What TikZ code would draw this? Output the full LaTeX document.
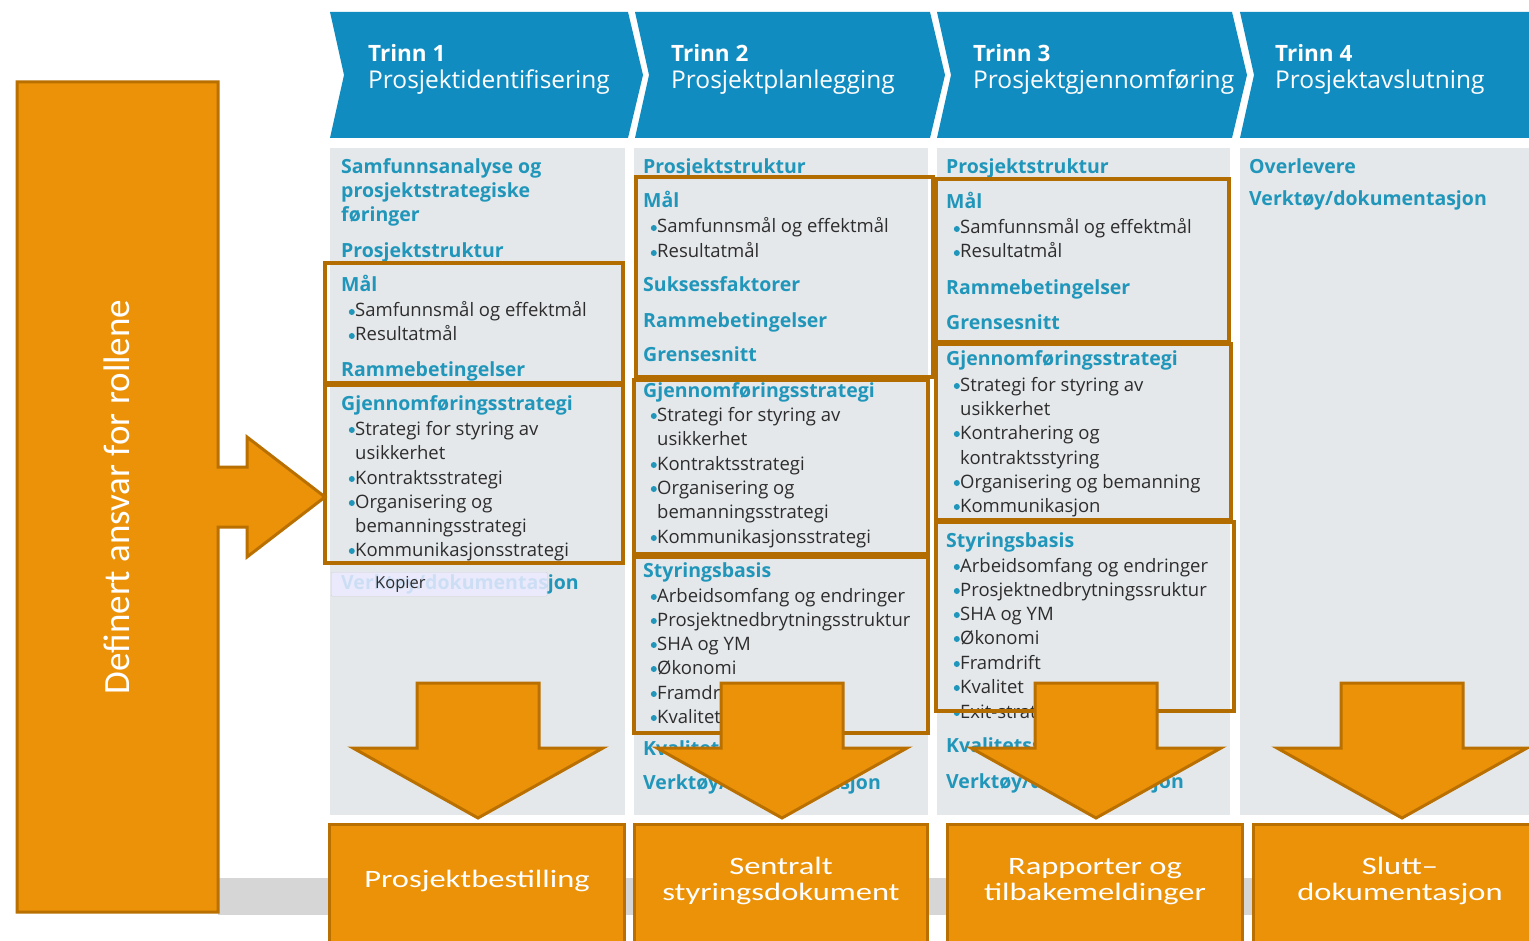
\documentclass[tikz,border=0pt]{standalone}
\usepackage{fontspec}
\setmainfont{Open Sans}
\newfontfamily\boxfont{Carlito}

\definecolor{hdrblue}{RGB}{16,140,192}
\definecolor{panelgray}{RGB}{229,232,235}
\definecolor{headteal}{RGB}{32,150,186}
\definecolor{itemgray}{RGB}{45,45,45}
\definecolor{orfill}{RGB}{236,146,8}
\definecolor{orline}{RGB}{185,112,0}
\definecolor{framebrown}{RGB}{178,108,0}
\definecolor{bandgray}{RGB}{214,214,214}

\tikzset{
  trinn/.style={text=white, anchor=base west, inner sep=0pt, font=\fontsize{22.5}{26}\selectfont\bfseries},
  fase/.style={text=white, anchor=base west, inner sep=0pt, font=\fontsize{24.5}{28}\selectfont},
  hd/.style={text=headteal, anchor=base west, inner sep=0pt, yshift=-7pt,
    font=\fontsize{19.5}{23}\selectfont\bfseries},
  ct/.style={text=itemgray, anchor=base west, inner sep=0pt, yshift=-7pt, xshift=14pt,
    text height=14pt, text depth=4pt, font=\fontsize{18.5}{22}\selectfont},
  bl/.style={ct, label distance=5pt,
    label={[circle, fill=headteal, inner sep=0pt, minimum size=6pt]left:{}}},
  frame/.style={draw=framebrown, line width=3.5pt},
  bigarrow/.style={fill=orfill, draw=orline, line width=3pt, line join=miter},
  outbox/.style={fill=orfill, draw=orline, line width=3pt, anchor=north,
    minimum height=130pt, inner sep=0pt},
  outtxt/.style={text=white, inner sep=0pt,
    font=\boxfont\fontsize{25}{26}\selectfont}
}

\newcommand\wide[1]{\scalebox{1.3}[1]{\begin{tabular}{@{}c@{}}#1\end{tabular}}}

\begin{document}
\begin{tikzpicture}[x=1pt,y=-1pt]
\useasboundingbox (0,0) rectangle (1529,941);
\clip (0,0) rectangle (1529,941);
\fill[white] (0,0) rectangle (1529,941);

% header chevrons
\foreach \xa/\xb in {330/628, 635/930, 937/1232, 1240/1570}
  \fill[hdrblue] (\xa,12) -- (\xb,12) -- (\xb+15,75) -- (\xb,138) -- (\xa,138) -- (\xa+14,75) -- cycle;
\foreach \x/\n/\t [count=\i] in {368/1/Prosjektidentifisering, 671/2/Prosjektplanlegging,
    973/3/Prosjektgjennomføring, 1275/4/Prosjektavslutning} {
  \node[trinn] (trinn\i) at (\x,62) {Trinn \n};
  \node[fase] (fase\i) at (\x,89) {\t};
}

% column panels
\foreach \xa/\xb in {330/625, 634/928, 937/1230, 1240/1529}
  \fill[panelgray] (\xa,148) rectangle (\xb,815);

% grey band behind the results
\fill[bandgray] (218,878) rectangle (1529,915);

% column 1
\foreach \y/\s/\t [count=\i] in {167/hd/Samfunnsanalyse og, 191/hd/prosjektstrategiske,
    215/hd/føringer, 251/hd/Prosjektstruktur, 285/hd/Mål,
    310/bl/Samfunnsmål og effektmål, 334/bl/Resultatmål, 369/hd/Rammebetingelser,
    403/hd/Gjennomføringsstrategi, 428/bl/Strategi for styring av, 452/ct/usikkerhet,
    477/bl/Kontraktsstrategi, 501/bl/Organisering og, 525/ct/bemanningsstrategi,
    549/bl/Kommunikasjonsstrategi, 582/hd/{Verktøy/dokumentasjon}}
  \node[\s] (ca\i) at (341,\y) {\t};

% column 2
\foreach \y/\s/\t [count=\i] in {167/hd/Prosjektstruktur, 201/hd/Mål,
    226/bl/Samfunnsmål og effektmål, 251/bl/Resultatmål, 285/hd/Suksessfaktorer,
    320/hd/Rammebetingelser, 355/hd/Grensesnitt, 390/hd/Gjennomføringsstrategi,
    414/bl/Strategi for styring av, 438/ct/usikkerhet, 463/bl/Kontraktsstrategi,
    487/bl/Organisering og, 511/ct/bemanningsstrategi, 536/bl/Kommunikasjonsstrategi,
    570/hd/Styringsbasis, 595/bl/Arbeidsomfang og endringer,
    619/bl/Prosjektnedbrytningsstruktur, 643/bl/SHA og YM, 667/bl/Økonomi,
    692/bl/Framdrift, 716/bl/Kvalitet, 748/hd/Kvalitetssikring,
    782/hd/{Verktøy/dokumentasjon}}
  \node[\s] (cb\i) at (643,\y) {\t};

% column 3
\foreach \y/\s/\t [count=\i] in {167/hd/Prosjektstruktur, 202/hd/Mål,
    227/bl/Samfunnsmål og effektmål, 251/bl/Resultatmål, 288/hd/Rammebetingelser,
    323/hd/Grensesnitt, 359/hd/Gjennomføringsstrategi, 384/bl/Strategi for styring av,
    408/ct/usikkerhet, 432/bl/Kontrahering og, 457/ct/kontraktsstyring,
    481/bl/Organisering og bemanning, 505/bl/Kommunikasjon, 540/hd/Styringsbasis,
    565/bl/Arbeidsomfang og endringer, 589/bl/Prosjektnedbrytningssruktur,
    613/bl/SHA og YM, 637/bl/Økonomi, 662/bl/Framdrift, 686/bl/Kvalitet,
    711/bl/Exit-strategi, 745/hd/Kvalitetssikring, 781/hd/{Verktøy/dokumentasjon}}
  \node[\s] (cc\i) at (946,\y) {\t};

% column 4
\node[hd] (cd1) at (1249,167) {Overlevere};
\node[hd] (cd2) at (1249,199) {Verktøy/dokumentasjon};

% frames
\draw[frame] (325,263) rectangle (623,383);
\draw[frame] (325,385) rectangle (623,563);
\draw[frame] (636,177) rectangle (933,377);
\draw[frame] (634,380) rectangle (928,554);
\draw[frame] (634,557) rectangle (928,733);
\draw[frame] (936,179) rectangle (1229,342);
\draw[frame] (936,344) rectangle (1231,520);
\draw[frame] (936,522) rectangle (1234,711);

% copy tooltip
\node[draw=gray!35, fill=white!92!blue, fill opacity=0.85, rounded corners=1pt,
  minimum width=216pt, minimum height=24pt, anchor=north west, inner sep=0pt] (kopier) at (331,572) {};
\node[text=itemgray, anchor=west, inner sep=0pt, font=\fontsize{16.5}{18}\selectfont]
  (kopiertxt) at ([xshift=44pt]kopier.west) {Kopier};

% down arrows
\foreach \c in {478, 782, 1096, 1402}
  \draw[bigarrow] (\c-61,683) -- (\c+61,683) -- (\c+61,748) -- (\c+125,748) -- (\c,818)
    -- (\c-125,748) -- (\c-61,748) -- cycle;

% results
\foreach \c/\w/\n/\t in {477/295/bestilling/Prosjektbestilling,
    781/293/styrdok/{Sentralt\\styringsdokument},
    1095/295/rapporter/{Rapporter og\\tilbakemeldinger},
    1400/294/sluttdok/{Slutt–\\dokumentasjon}} {
  \node[outbox, minimum width=\w pt] (\n) at (\c,823) {};
  \node[outtxt] (\n txt) at ([yshift=-59pt]\n.north) {\wide{\t}};
}

% roles
\draw[bigarrow] (17,82) -- (218,82) -- (218,467) -- (247,467) -- (247,437) -- (325,497)
  -- (247,557) -- (247,527) -- (218,527) -- (218,912) -- (17,912) -- cycle;
\node[rotate=90, text=white, inner sep=0pt, font=\boxfont\fontsize{37}{40}\selectfont]
  (ansvar) at (117,497) {Definert ansvar for rollene};
\end{tikzpicture}
\end{document}
